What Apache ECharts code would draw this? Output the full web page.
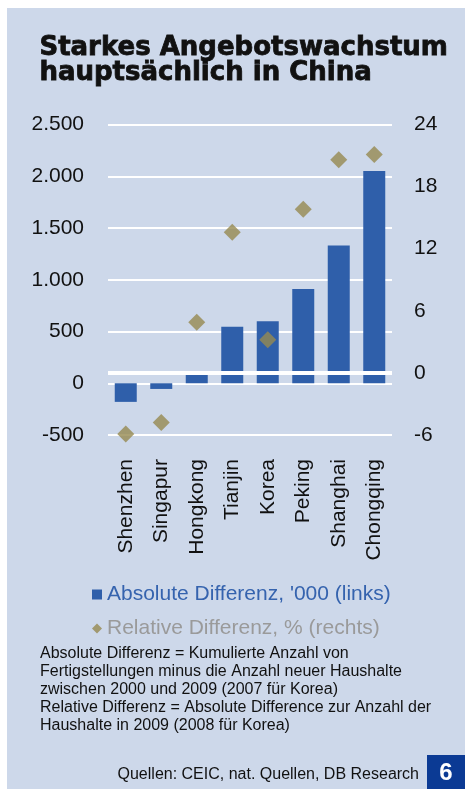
<!DOCTYPE html>
<html>
<head>
<meta charset="utf-8">
<script src="https://cdn.jsdelivr.net/npm/echarts@6/dist/echarts.min.js"></script>
<style>
html,body{margin:0;padding:0;background:#ffffff;}
#c{width:465px;height:789px;}
</style>
</head>
<body>
<div id="c"></div>
<script>
const categories = ['Shenzhen','Singapur','Hongkong','Tianjin','Korea','Peking','Shanghai','Chongqing'];
const absoluteDiff = [-180, -55, 80, 545, 600, 910, 1330, 2050];
const relativeDiff = [-5.9, -4.8, 4.9, 13.6, 3.2, 15.8, 20.6, 21.1];
const leftTicks = {min: -500, max: 2500, interval: 500};
const rightTicks = {min: -6, max: 24, interval: 6};

const FONT = '"Liberation Sans", Arial, sans-serif';
const chart = echarts.init(document.getElementById('c'), null, {renderer: 'canvas'});

function fmtThousands(v) {
  const s = Math.abs(v).toString().replace(/\B(?=(\d{3})+(?!\d))/g, '.');
  return (v < 0 ? '-' : '') + s;
}

chart.setOption({
  backgroundColor: '#ffffff',
  animation: false,
  graphic: [
    {type: 'rect', z: -10, shape: {x: 7, y: 8, width: 458, height: 781}, style: {fill: '#cdd8ea'}},
    {type: 'text', left: 39, top: 35, style: {
      text: 'Starkes Angebotswachstum\nhauptsächlich in China',
      font: 'bold 26px "DejaVu Sans", sans-serif', fill: '#111111', lineHeight: 25,
      stroke: '#111111', lineWidth: 0.8}},
    {type: 'text', left: 40, top: 645, style: {
      text: 'Absolute Differenz = Kumulierte Anzahl von\nFertigstellungen minus die Anzahl neuer Haushalte\nzwischen 2000 und 2009 (2007 für Korea)\nRelative Differenz = Absolute Difference zur Anzahl der\nHaushalte in 2009 (2008 für Korea)',
      font: '16px ' + FONT, fill: '#111111', lineHeight: 18}},
    {type: 'text', right: 46, top: 767, style: {
      text: 'Quellen: CEIC, nat. Quellen, DB Research',
      font: '16px ' + FONT, fill: '#111111'}},
    {type: 'rect', shape: {x: 427, y: 755, width: 38, height: 34}, style: {fill: '#0b3a94'}},
    {type: 'text', x: 446, y: 773, style: {
      text: '6', font: 'bold 24px ' + FONT, fill: '#ffffff', align: 'center', verticalAlign: 'middle'}}
  ],
  legend: {
    orient: 'vertical',
    left: 92,
    top: 584,
    padding: 0,
    itemGap: 13,
    itemWidth: 10,
    itemHeight: 10,
    textStyle: {fontFamily: FONT, fontSize: 21},
    data: [
      {name: "Absolute Differenz, '000 (links)", icon: 'rect', textStyle: {color: '#3563ae'}},
      {name: 'Relative Differenz, % (rechts)', icon: 'diamond', textStyle: {color: '#9a9a9a'}}
    ]
  },
  grid: {left: 108, right: 73, top: 124.5, bottom: 354, containLabel: false},
  xAxis: {
    type: 'category',
    data: categories,
    axisLine: {show: false},
    axisTick: {show: false},
    axisLabel: {rotate: 90, margin: 24, fontFamily: FONT, fontSize: 21, color: '#111111', interval: 0}
  },
  yAxis: [
    {
      type: 'value', min: leftTicks.min, max: leftTicks.max, interval: leftTicks.interval,
      axisLine: {show: false}, axisTick: {show: false},
      axisLabel: {margin: 24, fontFamily: FONT, fontSize: 21, color: '#111111', formatter: fmtThousands},
      splitLine: {show: true, lineStyle: {color: '#ffffff', width: 2}}
    },
    {
      type: 'value', min: rightTicks.min, max: rightTicks.max, interval: rightTicks.interval,
      position: 'right',
      axisLine: {show: false}, axisTick: {show: false},
      axisLabel: {margin: 22, fontFamily: FONT, fontSize: 21, color: '#111111'},
      splitLine: {show: false}
    }
  ],
  series: [
    {
      name: "Absolute Differenz, '000 (links)",
      type: 'bar',
      yAxisIndex: 0,
      data: absoluteDiff,
      barWidth: 22,
      itemStyle: {color: '#2f5faa'}
    },
    {
      name: 'Relative Differenz, % (rechts)',
      type: 'scatter',
      yAxisIndex: 1,
      data: relativeDiff,
      symbol: 'diamond',
      symbolSize: 17,
      itemStyle: {color: '#968a50'},
      z: 4,
      markLine: {
        silent: true,
        symbol: 'none',
        label: {show: false},
        lineStyle: {color: '#ffffff', width: 4, type: 'solid'},
        data: [{yAxis: 0}]
      }
    }
  ]
});
</script>
</body>
</html>
